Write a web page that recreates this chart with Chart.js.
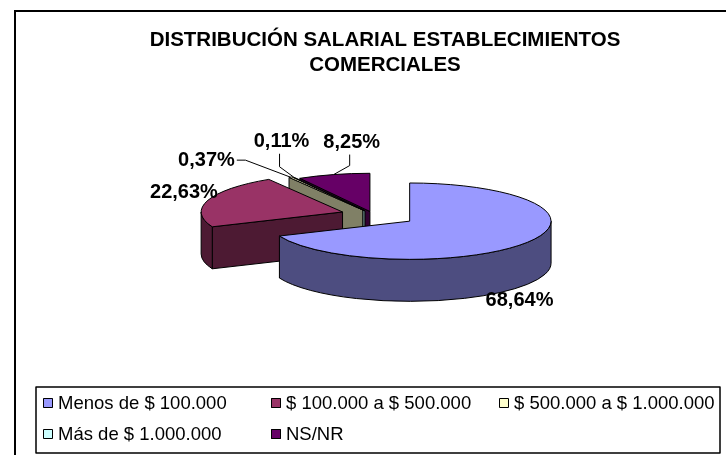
<!DOCTYPE html>
<html><head><meta charset="utf-8">
<script src="https://cdn.jsdelivr.net/npm/chart.js@4.4.1/dist/chart.umd.min.js"></script>
<style>html,body{margin:0;padding:0;background:#fff}canvas{display:block}</style>
</head><body>
<canvas id="c" width="726" height="455"></canvas>
<script>
const titleLines = ['DISTRIBUCIÓN SALARIAL ESTABLECIMIENTOS', 'COMERCIALES'];
const categories = ['Menos de $ 100.000', '$ 100.000 a $ 500.000', '$ 500.000 a $ 1.000.000', 'Más de $ 1.000.000', 'NS/NR'];
const percentages = [68.64, 22.63, 0.37, 0.11, 8.25];
const topColors = ['#9999FF', '#993366', '#FFFFCC', '#CCFFFF', '#660066'];
const sideColors = ['#4D4D80', '#4D1A33', '#808066', '#668080', '#330033'];
const explode = [44, 32, 20, 16, 12];

// styling / layout (not data)
const labelLayout = [
  {dx: -8, dy: 58},
  {dx: -24, dy: -8},
  {dx: -84, dy: -17, elbow: [-45, -17], attach: 'right'},
  {dx: -13, dy: -36, elbow: [-15, -11], attach: 'bottom'},
  {dx: 18, dy: -32, elbow: [16, -9], attach: 'bottom'}
];
const view = {shiftX: -12, shiftY: -4, tilt: 0.27, depth: 42};
const legendBox = {x: 36, y: 387, w: 684, h: 66, colW: 228, rowH: 31, first: 16, padX: 7, box: 10};
const FONT = '"Liberation Sans", Arial, sans-serif';

function fmt(v) { return v.toFixed(2).replace('.', ',') + '%'; }

function pt(s, a, dz) { return [s.ax + s.rx * Math.cos(a), s.ay + s.ry * Math.sin(a) + (dz || 0)]; }

function drawSlice(ctx, s) {
  const D = view.depth;
  ctx.lineWidth = 1;
  ctx.strokeStyle = '#000';
  ctx.lineJoin = 'round';
  ctx.fillStyle = sideColors[s.i];
  const walls = [];
  if (Math.cos(s.a0) < -1e-6) walls.push(s.a0);
  if (Math.cos(s.a1) > 1e-6) walls.push(s.a1);
  walls.forEach(a => {
    const r = pt(s, a, 0);
    ctx.beginPath();
    ctx.moveTo(s.ax, s.ay);
    ctx.lineTo(r[0], r[1]);
    ctx.lineTo(r[0], r[1] + D);
    ctx.lineTo(s.ax, s.ay + D);
    ctx.closePath();
    ctx.fill(); ctx.stroke();
  });
  for (let n = -1; n <= 2; n++) {
    const lo = Math.max(s.a0, 2 * Math.PI * n);
    const hi = Math.min(s.a1, Math.PI + 2 * Math.PI * n);
    if (hi > lo) {
      ctx.beginPath();
      ctx.ellipse(s.ax, s.ay, s.rx, s.ry, 0, lo, hi, false);
      ctx.ellipse(s.ax, s.ay + D, s.rx, s.ry, 0, hi, lo, true);
      ctx.closePath();
      ctx.fill(); ctx.stroke();
    }
  }
  ctx.fillStyle = topColors[s.i];
  ctx.beginPath();
  ctx.moveTo(s.ax, s.ay);
  ctx.ellipse(s.ax, s.ay, s.rx, s.ry, 0, s.a0, s.a1, false);
  ctx.closePath();
  ctx.fill(); ctx.stroke();
}

const pie3d = {
  id: 'pie3d',
  beforeDraw(chart) {
    const ctx = chart.ctx;
    ctx.save();
    ctx.fillStyle = '#fff';
    ctx.fillRect(0, 0, chart.width, chart.height);
    ctx.strokeStyle = '#000';
    ctx.lineWidth = 2;
    ctx.strokeRect(15, 11, 760, 480);
    ctx.restore();
  },
  beforeDatasetsDraw() { return false; },
  afterDraw(chart) {
    const ctx = chart.ctx;
    const meta = chart.getDatasetMeta(0);
    const values = chart.data.datasets[0].data;
    const arcs = meta.data.map((el, i) => {
      const R = el.outerRadius;
      const cx = el.x + view.shiftX, cy = el.y + view.shiftY;
      const mid = (el.startAngle + el.endAngle) / 2;
      const e = explode[i];
      return {
        i, a0: el.startAngle, a1: el.endAngle, mid,
        ax: cx + e * Math.cos(mid), ay: cy + e * view.tilt * Math.sin(mid),
        rx: R, ry: R * view.tilt
      };
    });
    ctx.save();
    arcs.slice().sort((a, b) => Math.sin(a.mid) - Math.sin(b.mid)).forEach(s => drawSlice(ctx, s));

    // data labels
    ctx.font = 'bold 20px ' + FONT;
    ctx.fillStyle = '#000';
    ctx.strokeStyle = '#000';
    ctx.lineWidth = 1;
    ctx.textAlign = 'center';
    ctx.textBaseline = 'middle';
    arcs.forEach(s => {
      const L = labelLayout[s.i];
      const r = pt(s, s.mid, 0);
      const lx = r[0] + L.dx, ly = r[1] + L.dy;
      const txt = fmt(values[s.i]);
      if (L.elbow) {
        const ex = r[0] + L.elbow[0], ey = r[1] + L.elbow[1];
        const w = ctx.measureText(txt).width;
        let endX, endY;
        if (L.attach === 'right') { endX = lx + w / 2 + 2; endY = ey; }
        else { endX = ex; endY = ly + 12; }
        ctx.beginPath();
        ctx.moveTo(r[0], r[1]);
        ctx.lineTo(ex, ey);
        ctx.lineTo(endX, endY);
        ctx.stroke();
      }
      ctx.fillText(txt, lx, ly);
    });

    // legend
    const lg = legendBox;
    ctx.lineWidth = 1.5;
    ctx.strokeStyle = '#000';
    ctx.strokeRect(lg.x, lg.y, lg.w, lg.h);
    ctx.font = '18.5px ' + FONT;
    ctx.textAlign = 'left';
    ctx.textBaseline = 'middle';
    chart.data.labels.forEach((c, i) => {
      const col = i % 3, row = Math.floor(i / 3);
      const bx = lg.x + lg.padX + col * lg.colW;
      const cyy = lg.y + lg.first + row * lg.rowH;
      ctx.fillStyle = topColors[i];
      ctx.fillRect(bx, cyy - lg.box / 2, lg.box, lg.box);
      ctx.lineWidth = 1;
      ctx.strokeRect(bx + 0.5, cyy - lg.box / 2 + 0.5, lg.box - 1, lg.box - 1);
      ctx.fillStyle = '#000';
      ctx.fillText(c, bx + lg.box + 5, cyy + 1);
    });
    ctx.restore();
  }
};

new Chart(document.getElementById('c'), {
  type: 'pie',
  data: {
    labels: categories,
    datasets: [{ data: percentages, backgroundColor: topColors, borderWidth: 0 }]
  },
  options: {
    responsive: false,
    animation: false,
    events: [],
    layout: { padding: { left: 70, right: 26, top: 0, bottom: 95 } },
    plugins: {
      legend: { display: false },
      tooltip: { enabled: false },
      title: {
        display: true,
        text: titleLines,
        color: '#000',
        font: { family: FONT, size: 20.5, weight: 'bold', lineHeight: 1.2 },
        padding: { top: 28, bottom: 0 }
      }
    }
  },
  plugins: [pie3d]
});
</script>
</body></html>
